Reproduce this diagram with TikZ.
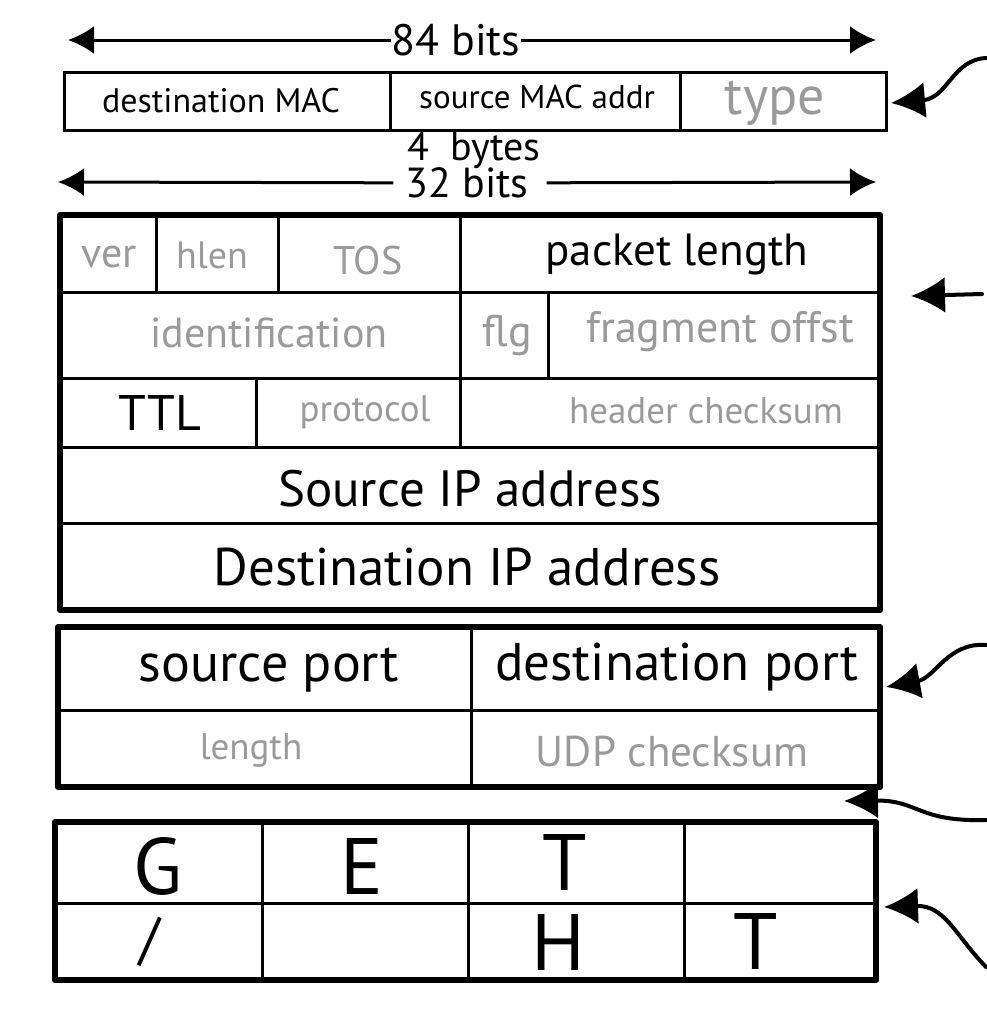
\documentclass[tikz,border=0pt]{standalone}
\usepackage{fontspec}
\setmainfont{PT Sans}
\usetikzlibrary{arrows.meta}
\definecolor{fieldgray}{HTML}{9A9A9A}
\begin{document}
\begin{tikzpicture}[x=1pt,y=-1pt,
  txt/.style={inner sep=0pt,font=\fontsize{#1}{#1}\selectfont},
  dim/.style={txt=#1,text=fieldgray},
  rule/.style={line width=3pt},
  frame/.style={line width=6pt,line join=round},
  ptr/.style={line width=4pt,line cap=round,-{Latex[length=34pt,width=36pt]}},
  span/.style={line width=3pt,-{Latex[length=26pt,width=28pt]}}]
\useasboundingbox (0,0) rectangle (986,1036);
% widths
\node[txt=44] (bits84) at (456,40) {84 bits};
\coordinate (b84l) at (68,40);
\coordinate (b84r) at (876,40);
\draw[span] (bits84) -- (b84l);
\draw[span] (bits84) -- (b84r);
\node[txt=40] (bytes4) at (474,150) {4\ \ bytes};
\node[txt=42] (bits32) at (467,183) {32 bits};
\coordinate (b32l) at (58,182);
\coordinate (b32r) at (876,182);
\draw[span,shorten <=12pt] (bits32) -- (b32l);
\draw[span,shorten <=18pt] (bits32) -- (b32r);
% ethernet frame
\draw[rule] (64,72) rectangle (886,130);
\draw[rule] (390,72) -- (390,130);
\draw[rule] (680,72) -- (680,130);
\node[txt=34] (dstmac) at (221,101) {destination MAC};
\node[txt=33] (srcmac) at (537,97) {source MAC addr};
\node[dim=54] (type) at (775,103) {type};
% ip header
\foreach \y in {292,378,447,523}
  \draw[rule] (60,\y) -- (880,\y);
\foreach \x in {156,278,460}
  \draw[rule] (\x,215) -- (\x,292);
\foreach \x in {460,548}
  \draw[rule] (\x,292) -- (\x,378);
\foreach \x in {256,460}
  \draw[rule] (\x,378) -- (\x,447);
\draw[frame] (60,215) rectangle (880,610);
\node[dim=42] (ver) at (109,257) {ver};
\node[dim=38] (hlen) at (212,255) {hlen};
\node[dim=40] (tos) at (368,260) {TOS};
\node[txt=45] (pktlen) at (677,255) {packet length};
\node[dim=42] (ident) at (269,333) {identification};
\node[dim=44] (flg) at (507,335) {flg};
\node[dim=44] (fragoff) at (720,332) {fragment offst};
\node[txt=50] (ttl) at (160,413) {TTL};
\node[dim=37] (proto) at (365,412) {protocol};
\node[dim=37] (hdrsum) at (706,411) {header checksum};
\node[txt=51] (srcip) at (470,489) {Source IP address};
\node[txt=53] (dstip) at (467,567) {Destination IP address};
% udp header
\draw[rule] (58,710) -- (880,710);
\draw[rule] (471,627) -- (471,787);
\draw[frame] (58,627) rectangle (880,787);
\node[txt=54] (srcport) at (269,670) {source port};
\node[txt=53] (dstport) at (677,667) {destination port};
\node[dim=37] (udplen) at (251,750) {length};
\node[dim=43] (udpsum) at (672,752) {UDP checksum};
% payload
\draw[rule] (55,903) -- (876,903);
\foreach \x in {262,468,684}
  \draw[rule] (\x,822) -- (\x,980);
\draw[frame] (55,822) rectangle (876,980);
\node[txt=80] (chG) at (158,866) {G};
\node[txt=80] (chE) at (362,866) {E};
\node[txt=80] (chT) at (565,862) {T};
\node[txt=58] (chSl) at (150,942) {/};
\node[txt=80] (chH) at (558,942) {H};
\node[txt=80] (chTT) at (756,941) {T};
% pointers from the right
\coordinate (pEth) at (986,58);
\coordinate (hEth) at (891,103);
\draw[ptr] (pEth) .. controls (952,60) and (948,98) .. (hEth);
\coordinate (pIp) at (982,294);
\coordinate (hIp) at (911,296);
\draw[ptr] (pIp) -- (hIp);
\coordinate (pUdp) at (986,645);
\coordinate (hUdp) at (886,687);
\draw[ptr] (pUdp) .. controls (948,642) and (935,678) .. (hUdp);
\coordinate (pGap) at (986,820);
\coordinate (hGap) at (844,801);
\draw[ptr] (pGap) .. controls (918,822) and (918,800) .. (hGap);
\coordinate (pApp) at (986,967);
\coordinate (hApp) at (884,907);
\draw[ptr] (pApp) .. controls (955,935) and (945,905) .. (hApp);
\end{tikzpicture}
\end{document}
